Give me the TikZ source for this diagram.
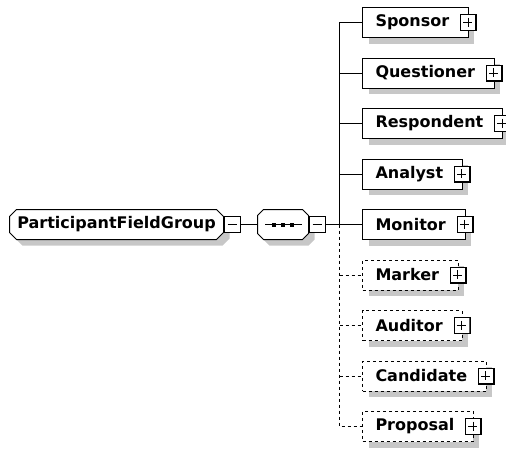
\documentclass[tikz,border=0pt]{standalone}
\usepackage{fontspec}
\newfontfamily\xsdfont{DejaVu Sans}
\usetikzlibrary{shadows, calc, backgrounds}

% Achteck um einen Knoten (Gruppe, Kompositor)
\newcommand{\chamferbox}[2]{%
  \draw[line width=1pt, fill=white, boxshadow] ([xshift=#2]#1.north west) -- ([xshift=-#2]#1.north east)
    -- ([yshift=-#2]#1.north east) -- ([yshift=#2]#1.south east)
    -- ([xshift=-#2]#1.south east) -- ([xshift=#2]#1.south west)
    -- ([yshift=#2]#1.south west) -- ([yshift=-#2]#1.north west) -- cycle;}

\begin{document}
\begin{tikzpicture}[x=1pt, y=-1pt, line width=1pt,
  boxshadow/.style={drop shadow={shadow xshift=6pt, shadow yshift=-6pt, fill=black!22, opacity=1}},
  group/.style={inner sep=0pt, outer sep=0pt, minimum width=214pt, minimum height=30pt,
    font=\xsdfont\bfseries\fontsize{16}{18}\selectfont},
  seqbox/.style={inner sep=0pt, outer sep=0pt, minimum width=51pt, minimum height=30pt},
  element/.style={draw, fill=white, boxshadow, anchor=west, inner xsep=0pt, inner ysep=0pt,
    outer sep=0pt, minimum height=30pt, font=\xsdfont\bfseries\fontsize{16}{18}\selectfont,
    execute at begin node=\hspace*{13pt}, execute at end node=\hspace*{19pt}},
  optional/.style={element, dashed},
  collapse/.style={draw, fill=white, minimum size=16pt, inner sep=0pt, outer sep=0pt,
    path picture={
      \draw[line width=2pt] (path picture bounding box.north east) -- (path picture bounding box.south east) -- (path picture bounding box.south west);
      \draw ([xshift=3pt]path picture bounding box.west) -- ([xshift=-4pt]path picture bounding box.east);}},
  expand/.style={collapse,
    path picture={
      \draw[line width=2pt] (path picture bounding box.north east) -- (path picture bounding box.south east) -- (path picture bounding box.south west);
      \draw ([xshift=3pt]path picture bounding box.west) -- ([xshift=-4pt]path picture bounding box.east);
      \draw ([xshift=-0.5pt,yshift=-3pt]path picture bounding box.north) -- ([xshift=-0.5pt,yshift=4pt]path picture bounding box.south);}}
]
\useasboundingbox (0,0) rectangle (506,451);

% Gruppe und Sequenz
\node[group] (pfg) at (116.5,224.5) {ParticipantFieldGroup};
\node[collapse] (pfgx) at (232.5,224.5) {};
\node[seqbox] (seq) at (283,224.5) {};
\node[collapse] (seqx) at (317.5,224.5) {};

\begin{pgfonlayer}{background}
\chamferbox{pfg}{7pt}
\chamferbox{seq}{6pt}
\end{pgfonlayer}

% Elemente der Sequenz
\node[element] (sponsor) at (362.5,22.5) {Sponsor};
\node[element] (questioner) at (362.5,73) {Questioner};
\node[element] (respondent) at (362.5,123.5) {Respondent};
\node[element] (analyst) at (362.5,174) {Analyst};
\node[element] (monitor) at (362.5,224.5) {Monitor};
\node[optional] (marker) at (362.5,275) {Marker};
\node[optional] (auditor) at (362.5,325.5) {Auditor};
\node[optional] (candidate) at (362.5,376) {Candidate};
\node[optional] (proposal) at (362.5,426.5) {Proposal};

\node[expand] (sponsorx) at (sponsor.east) {};
\node[expand] (questionerx) at (questioner.east) {};
\node[expand] (respondentx) at (respondent.east) {};
\node[expand] (analystx) at (analyst.east) {};
\node[expand] (monitorx) at (monitor.east) {};
\node[expand] (markerx) at (marker.east) {};
\node[expand] (auditorx) at (auditor.east) {};
\node[expand] (candidatex) at (candidate.east) {};
\node[expand] (proposalx) at (proposal.east) {};

% Sequenzsymbol
\draw ([xshift=7.5pt]seq.west) -- ([xshift=-6.5pt]seq.east);
\fill ([xshift=-11pt,yshift=2pt]seq.center) rectangle ++(4,4);
\fill ([xshift=-2pt,yshift=2pt]seq.center) rectangle ++(4,4);
\fill ([xshift=7pt,yshift=2pt]seq.center) rectangle ++(4,4);

% Verbindungen
\coordinate (hub) at (339.5,224.5);
\draw (pfgx) -- (seq);
\draw (seqx.east) -- (monitor.west);
\draw (hub) |- (sponsor.west);
\draw (questioner.west -| hub) -- (questioner.west);
\draw (respondent.west -| hub) -- (respondent.west);
\draw (analyst.west -| hub) -- (analyst.west);
\draw[dashed] (hub) |- (proposal.west);
\draw[dashed] (marker.west -| hub) -- (marker.west);
\draw[dashed] (auditor.west -| hub) -- (auditor.west);
\draw[dashed] (candidate.west -| hub) -- (candidate.west);
\end{tikzpicture}
\end{document}
